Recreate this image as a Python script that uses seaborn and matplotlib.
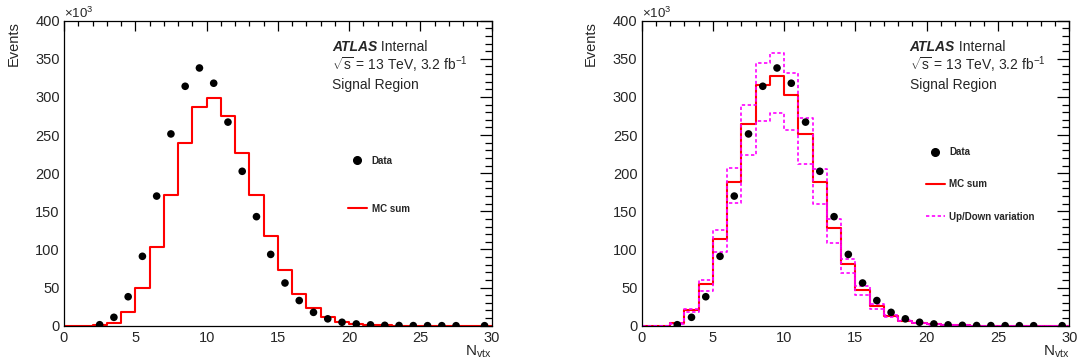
import numpy as np
import pandas as pd
import matplotlib
matplotlib.use("Agg")
import matplotlib.pyplot as plt
from matplotlib.lines import Line2D
from matplotlib.ticker import MultipleLocator
import seaborn as sns

# ---------------- data (values in thousands of events) ----------------
bin_edges = list(range(0, 31))
bin_centers = [i + 0.5 for i in range(30)]

data_vals = [np.nan, np.nan, 1.3, 11, 38, 91, 170, 251.5, 314, 338,
             318, 267, 202.5, 143, 93.5, 56, 33, 17.5, 9, 4.5,
             2.3, 1.1, 0.5, 0.25, 0.12, 0.06, 0.03, 0.01, np.nan, 0.01]

mc_left = [0, 0, 0.6, 4, 18, 50, 103.5, 172, 240, 287,
           298, 275, 227, 171, 117, 73, 42, 23.5, 12, 5,
           2.5, 1.2, 0.5, 0.2, 0.1, 0.05, 0.02, 0.01, 0, 0]

mc_right = [0, 0, 3, 20, 55, 114, 189, 265, 316, 328,
            303, 251, 189, 128, 81, 47, 26, 13, 6.5, 3.5,
            1.7, 0.8, 0.4, 0.2, 0.1, 0.05, 0.02, 0.01, 0, 0]

mc_up = [0, 0, 4, 22, 60, 125, 207, 289, 345, 358,
         331, 273, 206, 140, 88, 51.5, 28, 14, 7, 3.5,
         1.7, 0.8, 0.4, 0.2, 0.1, 0.05, 0.02, 0.01, 0, 0]

mc_down = [0, 0, 2.5, 18, 46, 96.5, 161, 224, 268, 278.5,
           257, 212, 160, 109, 68.5, 40, 22, 11, 5.7, 3,
           1.5, 0.7, 0.35, 0.15, 0.08, 0.04, 0.02, 0.01, 0, 0]

atlas_label = "ATLAS"
internal_label = " Internal"
energy_label = r"$\sqrt{\mathrm{s}}$ = 13 TeV, 3.2 fb$^{\mathrm{-1}}$"
region_label = "Signal Region"

# ---------------- style ----------------
sns.set_theme(style="white")
plt.rcParams['font.family'] = ['Liberation Sans', 'DejaVu Sans']
plt.rcParams['mathtext.fontset'] = 'custom'
plt.rcParams['mathtext.rm'] = 'Liberation Sans'
plt.rcParams['mathtext.it'] = 'Liberation Sans:italic'
plt.rcParams['mathtext.bf'] = 'Liberation Sans:bold'

W, H = 1078, 363
fig = plt.figure(figsize=(W / 100, H / 100), dpi=100)

def px_axes(x0, x1, y_top, y_bot):
    return fig.add_axes([x0 / W, 1 - y_bot / H, (x1 - x0) / W, (y_bot - y_top) / H])

ax_l = px_axes(64.0, 491.7, 20.7, 325.7)
ax_r = px_axes(641.6, 1069.3, 20.7, 325.7)

df = pd.DataFrame({"x": bin_centers, "data": data_vals, "mc_left": mc_left,
                   "mc_right": mc_right, "up": mc_up, "down": mc_down})

def style_axes(ax):
    ax.set_xlim(0, 30)
    ax.set_ylim(0, 400)
    ax.xaxis.set_major_locator(MultipleLocator(5))
    ax.xaxis.set_minor_locator(MultipleLocator(1))
    ax.yaxis.set_major_locator(MultipleLocator(50))
    ax.yaxis.set_minor_locator(MultipleLocator(10))
    ax.tick_params(which='both', direction='in', top=True, right=True,
                   color='black', width=0.9)
    ax.tick_params(which='major', length=9, labelsize=10.5, pad=3)
    ax.tick_params(which='minor', length=4.8)
    ax.tick_params(axis='x', which='major', length=7, pad=4)
    ax.tick_params(axis='x', which='minor', length=3.5)
    for s in ax.spines.values():
        s.set_visible(True)
        s.set_color('black')
        s.set_linewidth(0.9)
    ax.set_xlabel("")
    ax.set_ylabel("")
    ax.text(-0.118, 1.0, "Events", rotation=90, ha='center', va='top',
            transform=ax.transAxes, fontsize=10.5)
    ax.text(1.0, -0.058, r"N$_{\mathrm{vtx}}$", ha='right', va='top',
            transform=ax.transAxes, fontsize=11)
    ax.text(0.0, 1.0, r"$\times$10$^{\mathrm{3}}$", ha='left', va='bottom',
            transform=ax.transAxes, fontsize=9.5)
    # ATLAS labels
    t = ax.text(0.627, 0.901, atlas_label, transform=ax.transAxes, fontsize=10,
                fontweight='bold', fontstyle='italic', ha='left', va='baseline')
    fig.canvas.draw()
    bb = t.get_window_extent()
    x_end = ax.transAxes.inverted().transform((bb.x1, bb.y0))[0]
    ax.text(x_end, 0.901, internal_label, transform=ax.transAxes, fontsize=10,
            ha='left', va='baseline')
    ax.text(0.627, 0.838, energy_label, transform=ax.transAxes, fontsize=10,
            ha='left', va='baseline')
    ax.text(0.627, 0.775, region_label, transform=ax.transAxes, fontsize=10,
            ha='left', va='baseline')

# ----- left panel -----
sns.histplot(data=df, x="x", weights="mc_left", bins=bin_edges, element="step",
             fill=False, color="#ff0000", linewidth=1.5, ax=ax_l)
sns.scatterplot(data=df, x="x", y="data", color="black", s=30, edgecolor="none",
                ax=ax_l, zorder=5)
style_axes(ax_l)

h_data = Line2D([], [], color='black', marker='o', linestyle='none', markersize=5.5)
h_mc = Line2D([], [], color='#ff0000', linewidth=1.5)
h_var = Line2D([], [], color='#ff00ff', linewidth=1.2, linestyle=(0, (2, 1.5)))

leg_l = ax_l.legend([h_data, h_mc], ["Data", "MC sum"], loc='upper left',
                    bbox_to_anchor=(0.664, 0.557), frameon=False, borderpad=0,
                    borderaxespad=0, handlelength=1.95, handletextpad=0.5,
                    labelspacing=3.9, prop={'weight': 'bold', 'size': 7})

# ----- right panel -----
sns.histplot(data=df, x="x", weights="mc_right", bins=bin_edges, element="step",
             fill=False, color="#ff0000", linewidth=1.5, ax=ax_r)
sns.histplot(data=df, x="x", weights="up", bins=bin_edges, element="step",
             fill=False, color="#ff00ff", linewidth=1.2, linestyle=(0, (2, 1.5)), ax=ax_r)
sns.histplot(data=df, x="x", weights="down", bins=bin_edges, element="step",
             fill=False, color="#ff00ff", linewidth=1.2, linestyle=(0, (2, 1.5)), ax=ax_r)
sns.scatterplot(data=df, x="x", y="data", color="black", s=30, edgecolor="none",
                ax=ax_r, zorder=5)
style_axes(ax_r)

leg_r = ax_r.legend([h_data, h_mc, h_var], ["Data", "MC sum", "Up/Down variation"],
                    loc='upper left', bbox_to_anchor=(0.664, 0.586), frameon=False,
                    borderpad=0, borderaxespad=0, handlelength=1.95, handletextpad=0.5,
                    labelspacing=2.3, prop={'weight': 'bold', 'size': 7})

fig.savefig("out.png", dpi=100)
